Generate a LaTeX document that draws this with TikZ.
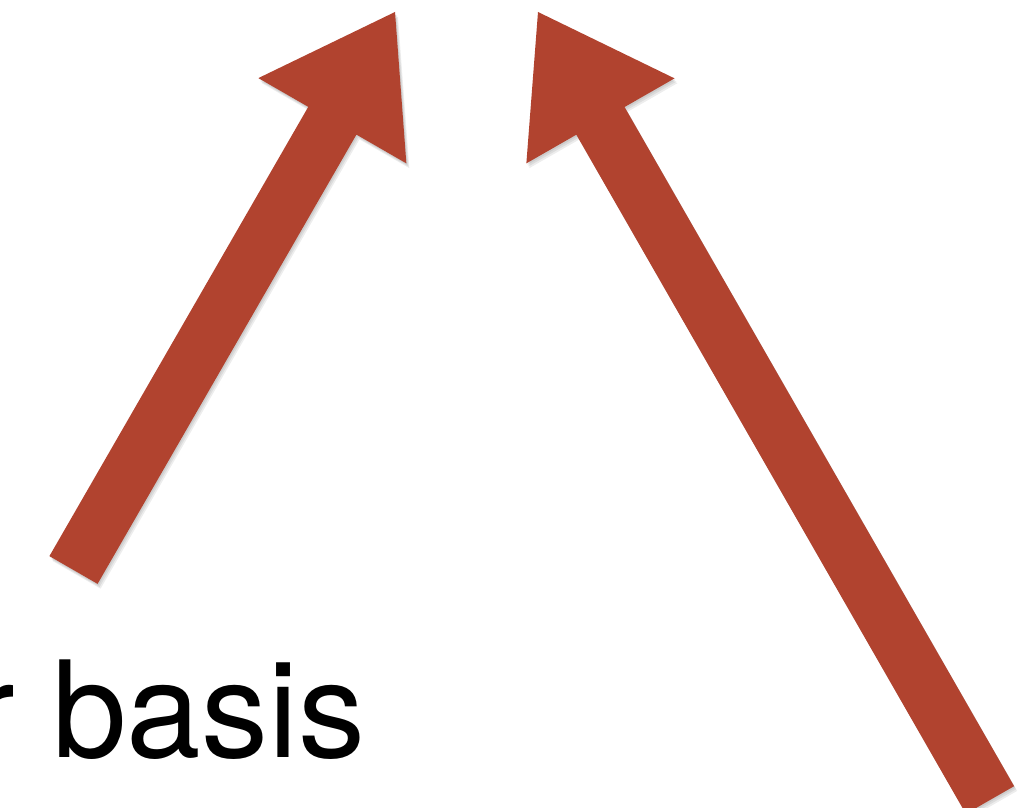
\documentclass[tikz,border=0pt]{standalone}
\usepackage{fontspec}
\setmainfont{TeX Gyre Heros}
\usetikzlibrary{calc}
\definecolor{cbrick}{HTML}{B1432F}

% fat arrow as one filled outline: [style]{tail}{tip}
\newcommand{\fatarrow}[3][]{%
  \path ($(#3)!62.75pt!(#2)$) coordinate (hb);
  \fill[#1] ($(#2)!13.9pt!90:(#3)$) -- ($(hb)!13.9pt!90:(#3)$)
    -- ($(hb)!42.7pt!90:(#3)$) -- (#3)
    -- ($(hb)!42.7pt!-90:(#3)$) -- ($(hb)!13.9pt!-90:(#3)$)
    -- ($(#2)!13.9pt!-90:(#3)$) -- cycle;
}

\begin{document}
\begin{tikzpicture}[
  x=0.5pt, y=-0.5pt,
  arrowbody/.style={fill=cbrick},
  arrowshade/.style={fill=black, opacity=0.07},
  lbl/.style={inner sep=0pt, font=\fontsize{67}{70}\selectfont}
]
\useasboundingbox (0,0) rectangle (1026,807);
\clip (0,0) rectangle (1026,807);

% --- end points of the two arrows ---
\coordinate (ltail) at (73.5,570);
\coordinate (ltip)  at (395,12);
\coordinate (rtail) at (990,800);
\coordinate (rtip)  at (538,12);

% --- soft shadow under both arrows ---
\foreach \d in {1,2,3}{
  \fatarrow[arrowshade, transform canvas={xshift=0.5*\d pt, yshift=-0.8*\d pt}]{ltail}{ltip}
  \fatarrow[arrowshade, transform canvas={xshift=0.5*\d pt, yshift=-0.8*\d pt}]{rtail}{rtip}
}

% --- the arrows ---
\fatarrow[arrowbody]{ltail}{ltip}
\fatarrow[arrowbody]{rtail}{rtip}

% --- label, cut at the left edge ---
\node[lbl, anchor=base west] (basis) at (-30,757) {r basis};

\end{tikzpicture}
\end{document}
